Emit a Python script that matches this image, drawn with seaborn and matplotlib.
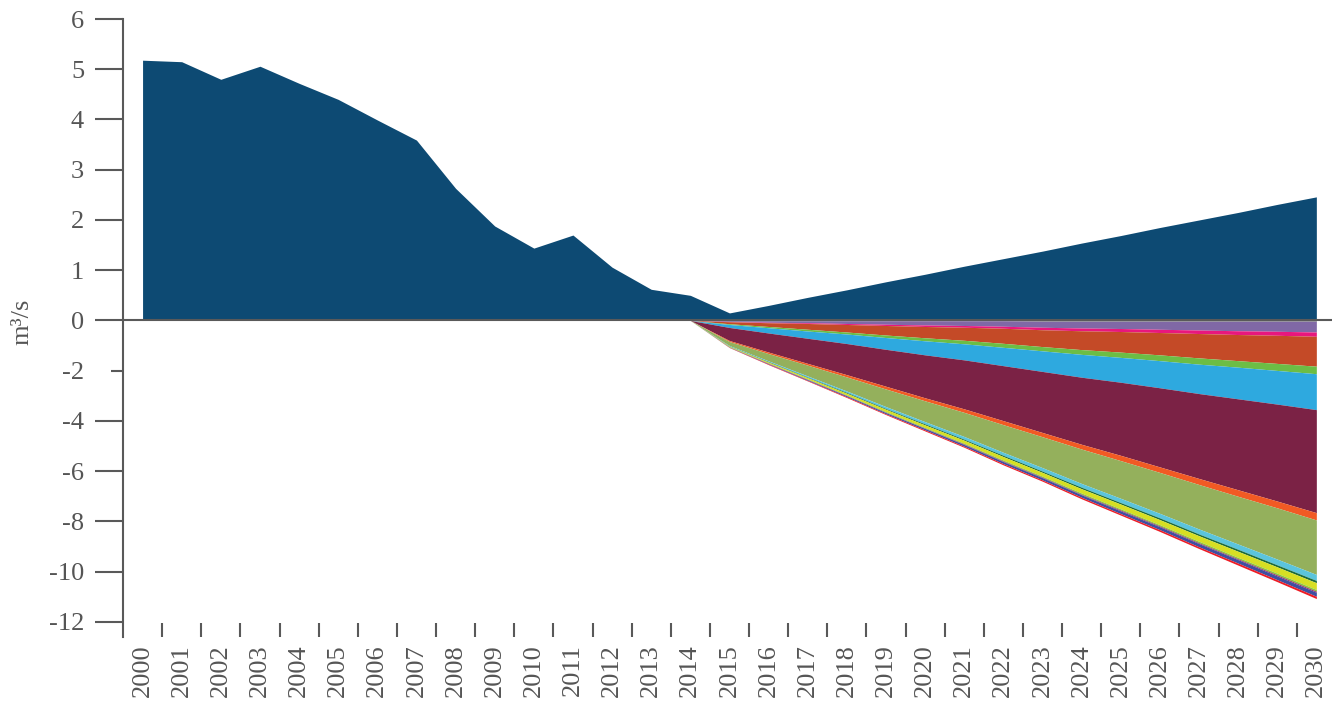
import numpy as np
import matplotlib
matplotlib.use("Agg")
import matplotlib.pyplot as plt
import seaborn as sns

# ---- data -------------------------------------------------------------
years = list(range(2000, 2031))

# positive series (m3/s), 2000-2030
positive = [5.18, 5.15, 4.80, 5.06, 4.72, 4.40, 3.99, 3.59, 2.63, 1.88,
            1.44, 1.70, 1.06, 0.62, 0.50, 0.15, 0.30, 0.46, 0.61, 0.77,
            0.92, 1.08, 1.23, 1.38, 1.54, 1.69, 1.85, 2.00, 2.15, 2.31, 2.46]

# negative contributions (magnitudes), years 2014-2030, top of stack first
neg_years = list(range(2014, 2031))
neg_olive_line = [0, 0.01, 0.01, 0.01, 0.01, 0.01, 0.01, 0.01, 0.01, 0.02, 0.02, 0.02, 0.02, 0.02, 0.02, 0.02, 0.02]
neg_purple = [0, 0.03, 0.06, 0.08, 0.11, 0.14, 0.17, 0.19, 0.22, 0.25, 0.28, 0.30, 0.33, 0.36, 0.39, 0.41, 0.44]
neg_pink = [0, 0.01, 0.02, 0.03, 0.04, 0.05, 0.06, 0.07, 0.08, 0.10, 0.11, 0.12, 0.13, 0.14, 0.15, 0.16, 0.17]
neg_brown = [0, 0.08, 0.15, 0.23, 0.30, 0.38, 0.45, 0.52, 0.60, 0.67, 0.75, 0.82, 0.89, 0.97, 1.04, 1.12, 1.19]
neg_green = [0, 0.03, 0.05, 0.07, 0.08, 0.10, 0.12, 0.14, 0.16, 0.17, 0.19, 0.21, 0.23, 0.25, 0.26, 0.28, 0.30]
neg_lightblue = [0, 0.12, 0.21, 0.29, 0.38, 0.47, 0.56, 0.64, 0.73, 0.82, 0.91, 0.99, 1.08, 1.17, 1.26, 1.34, 1.43]
neg_maroon = [0, 0.52, 0.76, 1.00, 1.24, 1.47, 1.71, 1.95, 2.19, 2.43, 2.67, 2.91, 3.15, 3.38, 3.62, 3.86, 4.10]
neg_orange = [0, 0.04, 0.06, 0.07, 0.09, 0.11, 0.12, 0.14, 0.16, 0.17, 0.19, 0.21, 0.22, 0.24, 0.26, 0.27, 0.29]
neg_olive = [0, 0.16, 0.29, 0.43, 0.56, 0.70, 0.83, 0.96, 1.10, 1.23, 1.37, 1.50, 1.63, 1.77, 1.90, 2.04, 2.17]
neg_cyan = [0, 0.02, 0.03, 0.05, 0.06, 0.08, 0.09, 0.11, 0.12, 0.14, 0.15, 0.17, 0.18, 0.20, 0.21, 0.23, 0.24]
neg_darkgreen = [0, 0.01, 0.02, 0.02, 0.03, 0.03, 0.04, 0.04, 0.05, 0.05, 0.06, 0.06, 0.07, 0.07, 0.08, 0.08, 0.09]
neg_yellow = [0, 0.02, 0.04, 0.05, 0.07, 0.09, 0.10, 0.12, 0.14, 0.15, 0.17, 0.19, 0.20, 0.22, 0.24, 0.25, 0.27]
neg_lime = [0, 0.01, 0.01, 0.02, 0.02, 0.03, 0.03, 0.03, 0.04, 0.04, 0.05, 0.05, 0.05, 0.06, 0.06, 0.07, 0.07]
neg_darkred = [0, 0.00, 0.01, 0.01, 0.01, 0.01, 0.01, 0.02, 0.02, 0.02, 0.02, 0.03, 0.03, 0.03, 0.03, 0.04, 0.04]
neg_blue = [0, 0.01, 0.02, 0.03, 0.04, 0.05, 0.06, 0.07, 0.08, 0.09, 0.10, 0.11, 0.12, 0.13, 0.14, 0.15, 0.16]
neg_red = [0, 0.01, 0.02, 0.02, 0.03, 0.03, 0.04, 0.04, 0.05, 0.05, 0.06, 0.06, 0.07, 0.07, 0.08, 0.08, 0.09]

neg_layers = [neg_olive_line, neg_purple, neg_pink, neg_brown, neg_green, neg_lightblue,
              neg_maroon, neg_orange, neg_olive, neg_cyan, neg_darkgreen, neg_yellow,
              neg_lime, neg_darkred, neg_blue, neg_red]
neg_colors = ["#6f9a3c", "#8068a6", "#e8177d", "#c44a27", "#6cbd45", "#2ea9df",
              "#7b2245", "#f15a24", "#94b05c", "#5bc4dc", "#1c6b3a", "#d7df23",
              "#8dc63f", "#9e1f63", "#3f4fa1", "#ee1c25"]

y_ticks = [-12, -10, -8, -6, -4, -2, 0, 1, 2, 3, 4, 5, 6]

# ---- style ------------------------------------------------------------
sns.set_style("white")
plt.rcParams["font.family"] = ["Liberation Serif", "DejaVu Serif"]
grey = "#595959"
text_grey = "#555555"


def fwd(y):
    y = np.asarray(y, dtype=float)
    return np.where(y >= 0, y, y / 2.0)


def inv(t):
    t = np.asarray(t, dtype=float)
    return np.where(t >= 0, t, t * 2.0)


fig = plt.figure(figsize=(13.32, 7.01), dpi=100)
ax = fig.add_axes([123 / 1332, 1 - 637 / 701, 1 - 123 / 1332, (637 - 19) / 701])
ax.set_yscale("function", functions=(fwd, inv))

# positive area
ax.fill_between(years, 0, positive, color="#0d4a73", lw=0, zorder=2)

# stacked negative areas
base = np.zeros(len(neg_years))
for vals, col in zip(neg_layers, neg_colors):
    low = base - np.array(vals)
    ax.fill_between(neg_years, base, low, color=col, lw=0, zorder=2)
    base = low

ax.axhline(0, color=grey, lw=1.5, zorder=3)

ax.set_xlim(1999.5, 2030.4)
ax.set_ylim(-12.6, 6)

ax.set_yticks(y_ticks)
ax.set_yticklabels([str(t) for t in y_ticks])
ax.tick_params(axis="y", left=True, direction="out", length=20, width=1.5, color=grey,
               labelsize=19, labelcolor=text_grey, pad=8)
# the -2 tick is drawn shorter in the original
for tk, val in zip(ax.yaxis.get_major_ticks(), y_ticks):
    if val == -2:
        tk.tick1line.set_markersize(9)

ax.set_xticks(years)
ax.set_xticklabels([str(y) for y in years], rotation=90)
ax.set_xticks([y + 0.5 for y in years[:-1]], minor=True)
ax.tick_params(axis="x", which="major", bottom=True, length=0, labelsize=19,
               labelcolor=text_grey, pad=5)
ax.tick_params(axis="x", which="minor", bottom=True, direction="in", length=10,
               width=1.5, color=grey)

ax.set_ylabel("m³/s", fontsize=19, color=text_grey)
ax.yaxis.set_label_coords(-0.074, 0.51)

sns.despine(ax=ax, top=True, right=True, bottom=True)
ax.spines["left"].set_color(grey)
ax.spines["left"].set_linewidth(1.5)
ax.grid(False)

fig.savefig("out.png", dpi=100)
